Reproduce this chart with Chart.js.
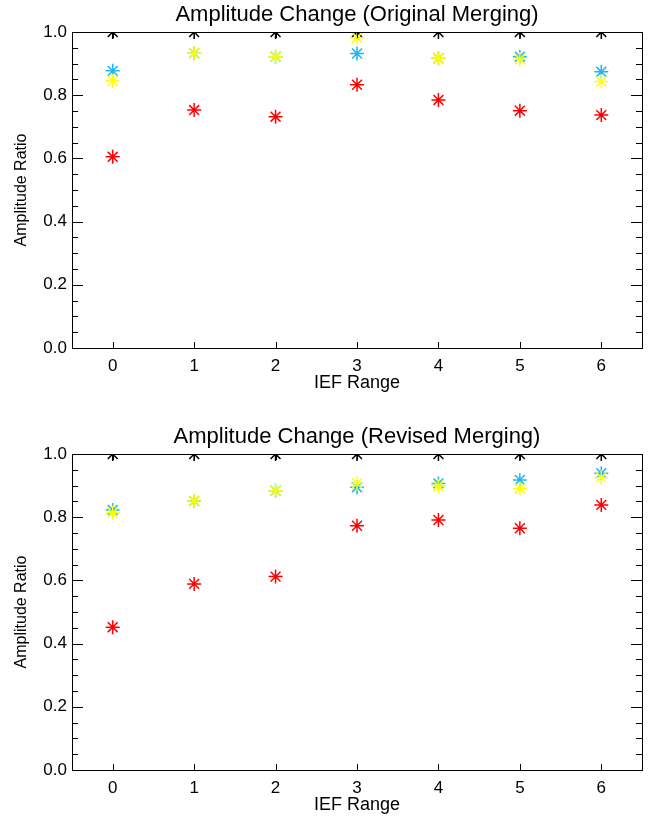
<!DOCTYPE html>
<html>
<head>
<meta charset="utf-8">
<script src="https://cdn.jsdelivr.net/npm/chart.js@4/dist/chart.umd.min.js"></script>
<style>
   body { margin: 0; background: #fff; }
   canvas { position: absolute; left: 0; }
   #top { top: 0; }
   #bottom { top: 396px; }
</style>
</head>
<body>
<canvas id="top" width="651" height="396"></canvas>
<canvas id="bottom" width="651" height="422"></canvas>
<script>
'use strict';

// IEF range categories and tick values
const iefRange = [0, 1, 2, 3, 4, 5, 6];
const yTickValues = [0, 0.2, 0.4, 0.6, 0.8, 1.0];

// Original merging
const origBlack = [1, 1, 1, 1, 1, 1, 1];
const origCyan = [0.877, 0.933, 0.922, 0.932, 0.917, 0.922, 0.874];
const origYellow = [0.845, 0.933, 0.922, 0.982, 0.917, 0.914, 0.843];
const origRed = [0.605, 0.753, 0.732, 0.833, 0.785, 0.751, 0.737];

// Revised merging
const revBlack = [1, 1, 1, 1, 1, 1, 1];
const revCyan = [0.823, 0.851, 0.884, 0.895, 0.907, 0.918, 0.939];
const revYellow = [0.814, 0.851, 0.884, 0.907, 0.899, 0.891, 0.926];
const revRed = [0.452, 0.589, 0.612, 0.773, 0.791, 0.765, 0.839];

const FONT = "'Liberation Sans', Arial, sans-serif";

function toPoints(values) {
   return iefRange.map(function (x, i) {
      return { x: x, y: values[i] };
   });
}

function starSet(values, color, order) {
   return {
      data: toPoints(values),
      showLine: false,
      pointStyle: 'star',
      radius: 7,
      borderWidth: 1.5,
      borderColor: color,
      backgroundColor: color,
      clip: 0,
      order: order
   };
}

// inward IDL-style ticks and box frame
const framePlugin = {
   id: 'frame',
   afterDatasetsDraw: function (chart) {
      const ctx = chart.ctx;
      const a = chart.chartArea;
      const xs = chart.scales.x;
      const ys = chart.scales.y;
      ctx.save();
      ctx.strokeStyle = '#000';
      ctx.lineWidth = 1;
      ctx.beginPath();
      iefRange.forEach(function (v) {
         const px = Math.round(xs.getPixelForValue(v)) + 0.5;
         ctx.moveTo(px, a.bottom);
         ctx.lineTo(px, a.bottom - 6);
         ctx.moveTo(px, a.top);
         ctx.lineTo(px, a.top + 6);
      });
      for (let k = 0; k <= 20; k++) {
         const v = k * 0.05;
         const len = (k % 4 === 0) ? 11 : 6;
         const py = Math.round(ys.getPixelForValue(v)) + 0.5;
         ctx.moveTo(a.left, py);
         ctx.lineTo(a.left + len, py);
         ctx.moveTo(a.right, py);
         ctx.lineTo(a.right - len, py);
      }
      ctx.stroke();
      ctx.strokeRect(Math.round(a.left) + 0.5, Math.round(a.top) + 0.5,
         Math.round(a.right - a.left), Math.round(a.bottom - a.top));
      ctx.restore();
   }
};

function makeChart(canvasId, titleText, black, cyan, yellow, red, padTop) {
   return new Chart(document.getElementById(canvasId), {
      type: 'scatter',
      data: {
         datasets: [
            starSet(yellow, '#ffff00', 1),
            starSet(cyan, '#1cb6f4', 2),
            starSet(black, '#000000', 3),
            starSet(red, '#ff0000', 4)
         ]
      },
      options: {
         responsive: false,
         animation: false,
         events: [],
         layout: {
            padding: { top: padTop, right: 9, bottom: 0, left: 0 }
         },
         scales: {
            x: {
               type: 'linear',
               min: -0.5,
               max: 6.5,
               grid: { display: false, drawTicks: false },
               border: { display: false },
               afterBuildTicks: function (s) {
                  s.ticks = iefRange.map(function (v) { return { value: v }; });
               },
               afterFit: function (s) { s.height = 48; },
               ticks: {
                  color: '#000',
                  padding: 8,
                  maxRotation: 0,
                  font: { family: FONT, size: 17 }
               },
               title: {
                  display: true,
                  text: 'IEF Range',
                  color: '#000',
                  padding: { top: 0, bottom: 2 },
                  font: { family: FONT, size: 18 }
               }
            },
            y: {
               type: 'linear',
               min: 0,
               max: 1,
               grid: { display: false, drawTicks: false },
               border: { display: false },
               afterBuildTicks: function (s) {
                  s.ticks = yTickValues.map(function (v) { return { value: v }; });
               },
               afterFit: function (s) { s.width = 72; },
               ticks: {
                  color: '#000',
                  padding: 5,
                  font: { family: FONT, size: 17 },
                  callback: function (v) { return Number(v).toFixed(1); }
               },
               title: {
                  display: true,
                  text: 'Amplitude Ratio',
                  color: '#000',
                  padding: { top: 12, bottom: 0 },
                  font: { family: FONT, size: 16 }
               }
            }
         },
         plugins: {
            legend: { display: false },
            tooltip: { enabled: false },
            title: {
               display: true,
               fullSize: false,
               text: titleText,
               color: '#000',
               padding: { top: 2, bottom: 3.6 },
               font: { family: FONT, size: 22, weight: 'normal' }
            }
         }
      },
      plugins: [framePlugin]
   });
}

makeChart('top', 'Amplitude Change (Original Merging)', origBlack, origCyan, origYellow, origRed, 0);
makeChart('bottom', 'Amplitude Change (Revised Merging)', revBlack, revCyan, revYellow, revRed, 26);
</script>
</body>
</html>
